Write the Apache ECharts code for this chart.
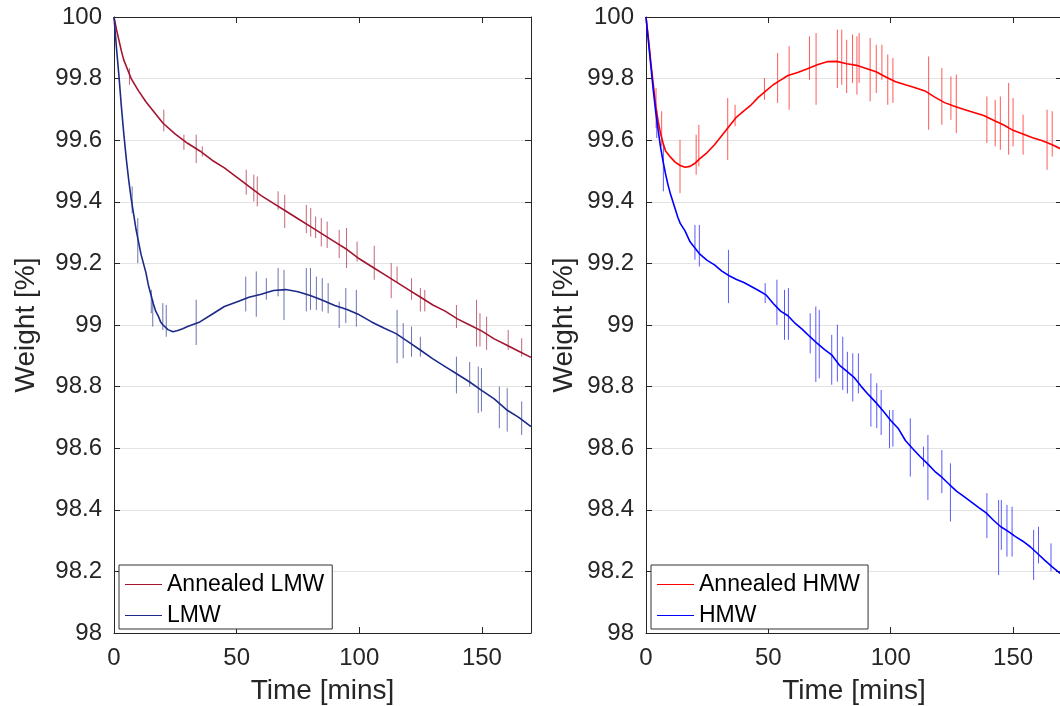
<!DOCTYPE html>
<html>
<head>
<meta charset="utf-8">
<script src="https://cdn.jsdelivr.net/npm/echarts@6/dist/echarts.min.js"></script>
<style>
html,body{margin:0;padding:0;background:#fff;overflow:hidden;}
#chart{width:1060px;height:706px;}
</style>
</head>
<body>
<div id="chart"></div>
<script>
// ---- Data ----
const xTicks = [0, 50, 100, 150];
const yTickLabels = ['98','98.2','98.4','98.6','98.8','99','99.2','99.4','99.6','99.8','100'];

// Left panel: Annealed LMW  [time (min), weight (%)]
const annealedLMW = [
  [0,100],[1,99.96],[2,99.925],[3,99.89],[4,99.86],[5,99.84],[7,99.80],[10,99.76],[13,99.725],[16,99.695],
  [20,99.655],[25,99.62],[30,99.59],[35,99.565],[40,99.535],[45,99.51],[50,99.48],[55,99.45],[60,99.42],
  [65,99.395],[70,99.37],[75,99.345],[80,99.32],[85,99.295],[90,99.27],[95,99.245],[100,99.215],[105,99.19],
  [110,99.165],[115,99.14],[120,99.115],[125,99.09],[130,99.065],[135,99.045],[140,99.02],[145,99.0],
  [150,98.98],[155,98.955],[160,98.935],[165,98.915],[170,98.895]
];
// Left panel: LMW
const LMW = [
  [0,100],[1,99.9],[2,99.81],[3,99.71],[4,99.62],[5,99.54],[6,99.47],[7,99.41],[8,99.36],[9,99.31],[10,99.27],
  [11,99.23],[12,99.2],[13,99.17],[14,99.13],[15,99.1],[16,99.07],[17,99.045],[18,99.03],[19,99.01],[20,99.0],
  [22,98.985],[24,98.978],[26,98.982],[28,98.988],[30,98.995],[35,99.01],[40,99.035],[45,99.06],[50,99.075],
  [55,99.09],[60,99.1],[65,99.112],[70,99.115],[75,99.108],[80,99.096],[85,99.08],[90,99.063],[95,99.05],
  [100,99.033],[105,99.01],[110,98.99],[115,98.972],[120,98.945],[125,98.918],[130,98.89],[135,98.865],
  [140,98.84],[145,98.815],[150,98.787],[155,98.76],[160,98.725],[165,98.7],[170,98.67]
];
// Right panel: Annealed HMW
const annealedHMW = [
  [0,100],[1,99.93],[2,99.85],[3,99.78],[4,99.71],[5,99.66],[6,99.62],[7,99.59],[8,99.565],[10,99.545],
  [12,99.528],[14,99.518],[16,99.512],[18,99.515],[20,99.525],[22,99.54],[25,99.56],[28,99.585],[31,99.615],
  [34,99.645],[37,99.675],[40,99.695],[43,99.715],[46,99.74],[49,99.76],[52,99.78],[55,99.795],[58,99.81],
  [62,99.82],[66,99.832],[70,99.845],[74,99.855],[78,99.856],[82,99.848],[86,99.843],[90,99.833],[94,99.822],
  [98,99.805],[102,99.79],[106,99.78],[110,99.77],[114,99.76],[118,99.74],[122,99.722],[126,99.71],[130,99.70],
  [134,99.69],[138,99.68],[142,99.665],[146,99.65],[150,99.632],[154,99.62],[158,99.608],[162,99.598],
  [166,99.585],[170,99.57]
];
// Right panel: HMW
const HMW = [
  [0,100],[1,99.92],[2,99.84],[3,99.76],[4,99.69],[5,99.63],[6,99.575],[7,99.53],[8,99.49],[9,99.455],
  [10,99.425],[11,99.4],[12,99.375],[13,99.35],[14,99.33],[16,99.305],[18,99.27],[20,99.25],[22,99.23],
  [25,99.21],[28,99.195],[31,99.175],[34,99.16],[37,99.148],[40,99.138],[43,99.125],[46,99.112],[49,99.098],
  [52,99.07],[55,99.045],[58,99.03],[61,99.005],[64,98.985],[67,98.962],[70,98.94],[73,98.92],[76,98.902],
  [79,98.87],[82,98.85],[85,98.83],[88,98.8],[91,98.773],[94,98.748],[97,98.72],[100,98.69],[103,98.665],
  [106,98.625],[109,98.598],[112,98.573],[115,98.55],[118,98.525],[121,98.505],[124,98.482],[127,98.46],
  [130,98.443],[133,98.425],[136,98.407],[139,98.39],[142,98.366],[145,98.345],[148,98.33],[151,98.313],
  [154,98.298],[157,98.28],[160,98.258],[163,98.236],[166,98.215],[169,98.195],[170,98.19]
];

// Spikes: [time, high, low]
const spikesAnnealedLMW = [
  [6.3,99.834,99.78],[20.3,99.699,99.629],[28.5,99.618,99.569],[33.5,99.618,99.526],[36,99.58,99.547],
  [53.9,99.504,99.423],[57,99.488,99.401],[58.4,99.482,99.385],[66.9,99.434,99.374],[69.6,99.423,99.315],
  [78.4,99.39,99.298],[80.2,99.38,99.287],[82.2,99.352,99.282],[84.5,99.347,99.255],[86.9,99.336,99.25],
  [91.8,99.309,99.217],[94.8,99.315,99.185],[99.1,99.271,99.206],[106.1,99.257,99.147],[113,99.201,99.087],
  [115.4,99.19,99.136],[121.3,99.152,99.082],[124.9,99.12,99.044],[126.7,99.114,99.044],[139.6,99.065,98.99],
  [147.8,99.082,98.93],[149.2,99.038,98.93],[151.9,99.027,98.919],[160.7,98.984,98.919],[166.2,98.957,98.897]
];
const spikesLMW = [
  [7.4,99.45,99.363],[9.7,99.347,99.201],[15.2,99.114,99.038],[15.8,99.082,98.995],[19.9,99.071,98.984],
  [21.3,99.065,98.962],[33.5,99.082,98.935],[53.7,99.157,99.044],[58,99.174,99.027],[62.1,99.152,99.082],
  [66.9,99.185,99.093],[69.3,99.179,99.016],[78.4,99.185,99.044],[80.1,99.185,99.049],[82.5,99.157,99.049],
  [84.9,99.152,99.044],[87.3,99.136,99.038],[91.8,99.076,98.99],[94.5,99.12,99.006],[98.8,99.114,98.995],
  [115.4,99.049,98.876],[117.9,99.006,98.892],[121.3,98.995,98.897],[124.9,98.962,98.897],[139.6,98.897,98.778],
  [145,98.88,98.8],[148.5,98.865,98.714],[149.8,98.86,98.719],[157.1,98.8,98.665],[160.3,98.795,98.654],
  [166.2,98.752,98.643]
];
const spikesAnnealedHMW = [
  [4.1,99.769,99.639],[6.4,99.694,99.58],[13.9,99.601,99.428],[20.5,99.618,99.488],[21.6,99.65,99.515],
  [33.4,99.737,99.536],[36.4,99.715,99.645],[48.4,99.802,99.731],[53.8,99.883,99.721],[58.5,99.905,99.699],
  [66.8,99.937,99.796],[69.5,99.948,99.715],[78.2,99.959,99.769],[80,99.959,99.78],[82,99.926,99.753],
  [84.4,99.943,99.786],[86.2,99.937,99.748],[87.1,99.948,99.786],[91.6,99.932,99.726],[94.1,99.91,99.753],
  [96.4,99.91,99.796],[98.8,99.878,99.715],[100.9,99.867,99.721],[115.5,99.872,99.634],[120.9,99.834,99.65],
  [124.6,99.807,99.666],[126.8,99.813,99.623],[139.3,99.742,99.591],[142.7,99.731,99.58],[144.8,99.742,99.569],
  [148.2,99.786,99.553],[150,99.737,99.58],[154.1,99.683,99.553],[163.9,99.699,99.504],[166,99.694,99.547]
];
const spikesHMW = [
  [4.4,99.699,99.607],[7.1,99.591,99.434],[20,99.325,99.212],[21.8,99.325,99.19],[33.7,99.244,99.071],
  [48.7,99.136,99.071],[53.5,99.147,99.0],[56.6,99.114,98.952],[58.2,99.12,98.952],[67.1,99.038,98.908],
  [69.4,99.06,98.815],[70.8,99.049,98.827],[75.9,98.968,98.806],[78.2,99.001,98.816],[80.4,98.962,98.789],
  [82.3,98.913,98.778],[84.5,98.908,98.752],[86.8,98.908,98.778],[91.9,98.843,98.67],[94.3,98.811,98.665],
  [96.1,98.789,98.643],[99.5,98.724,98.6],[100.9,98.724,98.605],[108,98.697,98.508],[113.4,98.605,98.54],
  [115.2,98.643,98.432],[120.9,98.594,98.454],[124.4,98.551,98.362],[139.3,98.454,98.308],[144.1,98.432,98.188],
  [145.2,98.432,98.27],[147.5,98.416,98.248],[149.6,98.41,98.248],[158.4,98.335,98.172],[160.4,98.345,98.226],
  [165.5,98.291,98.2]
];

// ---- Chart ----
const FONT = '"Liberation Sans", Arial, Helvetica, sans-serif';
const AX = '#262626';
const C_ALMW = '#A2142F', C_LMW = '#1c2a88', C_AHMW = '#FF0000', C_HMW = '#0000FF';

function bottomX(gi) {
  return {
    type: 'value', gridIndex: gi, position: 'bottom', min: 0, max: 170, interval: 50,
    name: 'Time [mins]', nameLocation: 'middle', nameGap: 44,
    nameTextStyle: { fontFamily: FONT, fontSize: 28, color: AX },
    axisLine: { show: true, onZero: false, lineStyle: { color: AX, width: 1 } },
    axisTick: { show: true, inside: true, length: 6, lineStyle: { color: AX } },
    axisLabel: { show: true, fontFamily: FONT, fontSize: 24, color: AX, margin: 13, showMaxLabel: false,
      formatter: v => xTicks.indexOf(v) >= 0 ? String(v) : '' },
    splitLine: { show: false }
  };
}
function topX(gi) {
  return {
    type: 'value', gridIndex: gi, position: 'top', min: 0, max: 170, interval: 50,
    axisLine: { show: true, onZero: false, lineStyle: { color: AX, width: 1 } },
    axisTick: { show: true, inside: true, length: 6, lineStyle: { color: AX } },
    axisLabel: { show: false }, splitLine: { show: false }
  };
}
function leftY(gi, gap) {
  return {
    type: 'value', gridIndex: gi, position: 'left', min: 98, max: 100, interval: 0.2,
    name: 'Weight [%]', nameLocation: 'middle', nameGap: gap,
    nameTextStyle: { fontFamily: FONT, fontSize: 28, color: AX },
    axisLine: { show: true, onZero: false, lineStyle: { color: AX, width: 1 } },
    axisTick: { show: true, inside: true, length: 6, lineStyle: { color: AX } },
    axisLabel: { show: true, fontFamily: FONT, fontSize: 24, color: AX, margin: 12,
      formatter: v => { const s = String(Math.round(v * 10) / 10); return yTickLabels.indexOf(s) >= 0 ? s : ''; } },
    splitLine: { show: true, lineStyle: { color: '#e3e3e3', width: 1 } }
  };
}
function rightY(gi) {
  return {
    type: 'value', gridIndex: gi, position: 'right', min: 98, max: 100, interval: 0.2,
    axisLine: { show: true, onZero: false, lineStyle: { color: AX, width: 1 } },
    axisTick: { show: true, inside: true, length: 6, lineStyle: { color: AX } },
    axisLabel: { show: false }, splitLine: { show: false }
  };
}
function mainLine(name, data, color, ax) {
  return {
    name, type: 'line', data, xAxisIndex: ax, yAxisIndex: ax, showSymbol: false, symbol: 'none',
    lineStyle: { color, width: 1.6 }, itemStyle: { color }, z: 3, animation: false, clip: true
  };
}
function spikeSeries(name, data, color, ax) {
  return {
    name, type: 'custom', data, xAxisIndex: ax, yAxisIndex: ax, z: 2, animation: false, clip: true,
    encode: { x: 0, y: [1, 2] },
    renderItem: (params, api) => {
      const p1 = api.coord([api.value(0), api.value(1)]);
      const p2 = api.coord([api.value(0), api.value(2)]);
      return { type: 'line', shape: { x1: p1[0], y1: p1[1], x2: p2[0], y2: p2[1] },
        style: { stroke: color, lineWidth: 1, opacity: 0.65 } };
    }
  };
}
function legend(left, names) {
  return {
    data: names, orient: 'vertical', left, top: 565, itemWidth: 37, itemHeight: 1, icon: 'rect',
    itemGap: 8, padding: [8, 8, 2, 6], borderColor: '#333', borderWidth: 1, backgroundColor: '#fff',
    textStyle: { fontFamily: FONT, fontSize: 23, color: '#000' }, selectedMode: false
  };
}

const chart = echarts.init(document.getElementById('chart'), null, { renderer: 'canvas' });
chart.setOption({
  animation: false,
  backgroundColor: '#fff',
  grid: [
    { left: 114, top: 17, width: 417, height: 616, containLabel: false, outerBoundsMode: 'none' },
    { left: 646, top: 17, width: 416, height: 616, containLabel: false, outerBoundsMode: 'none' }
  ],
  xAxis: [bottomX(0), topX(0), bottomX(1), topX(1)],
  yAxis: [leftY(0, 74), rightY(0), leftY(1, 68), rightY(1)],
  legend: [legend(119, ['Annealed LMW', 'LMW']), legend(651, ['Annealed HMW', 'HMW'])],
  series: [
    spikeSeries('spk1', spikesAnnealedLMW, C_ALMW, 0),
    spikeSeries('spk2', spikesLMW, C_LMW, 0),
    mainLine('Annealed LMW', annealedLMW, C_ALMW, 0),
    mainLine('LMW', LMW, C_LMW, 0),
    spikeSeries('spk3', spikesAnnealedHMW, C_AHMW, 2),
    spikeSeries('spk4', spikesHMW, C_HMW, 2),
    mainLine('Annealed HMW', annealedHMW, C_AHMW, 2),
    mainLine('HMW', HMW, C_HMW, 2)
  ]
});
</script>
</body>
</html>
